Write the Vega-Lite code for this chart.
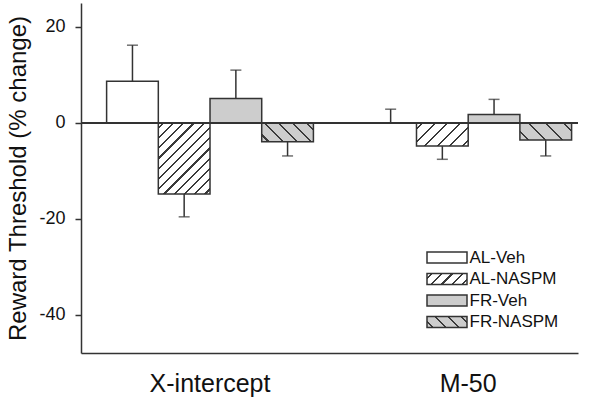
{
  "$schema": "https://vega.github.io/schema/vega-lite/v6.json",
  "width": 497,
  "height": 350,
  "autosize": {"type": "none"},
  "padding": {"left": 81, "top": 3, "right": 22, "bottom": 49},
  "config": {
    "font": "Liberation Sans",
    "view": {"stroke": null},
    "axis": {"grid": false, "domainColor": "#333", "domainWidth": 1.5, "tickColor": "#333", "tickWidth": 1.5, "labelColor": "#111", "titleColor": "#111", "titleFontWeight": "normal"}
  },
  "data": {
    "values": [
      {"measure": "X-intercept", "group": "AL-Veh", "value": 8.7, "err": 16.2},
      {"measure": "X-intercept", "group": "AL-NASPM", "value": -14.85, "err": -19.6},
      {"measure": "X-intercept", "group": "FR-Veh", "value": 5.1, "err": 11.0},
      {"measure": "X-intercept", "group": "FR-NASPM", "value": -3.95, "err": -6.9},
      {"measure": "M-50", "group": "AL-Veh", "value": 0, "err": 2.85},
      {"measure": "M-50", "group": "AL-NASPM", "value": -4.85, "err": -7.6},
      {"measure": "M-50", "group": "FR-Veh", "value": 1.75, "err": 4.9},
      {"measure": "M-50", "group": "FR-NASPM", "value": -3.6, "err": -6.9}
    ]
  },
  "layer": [
    {
      "mark": {"type": "bar", "stroke": "#333", "strokeWidth": 1.5},
      "encoding": {
        "x": {"field": "measure", "type": "nominal", "sort": ["X-intercept", "M-50"],
              "scale": {"paddingInner": 0.199, "paddingOuter": 0.062, "align": 0.8},
              "axis": {"title": null, "labelAngle": 0, "ticks": false, "labelFontSize": 25, "labelPadding": 18}},
        "xOffset": {"field": "group", "type": "nominal", "sort": ["AL-Veh", "AL-NASPM", "FR-Veh", "FR-NASPM"],
                    "scale": {"paddingInner": 0, "paddingOuter": 0}},
        "y": {"field": "value", "type": "quantitative",
              "scale": {"domain": [-48, 25], "nice": false, "zero": false},
              "axis": {"values": [-40, -20, 0, 20], "tickSize": 6, "labelFontSize": 18, "labelPadding": 10,
                       "labelExpr": "datum.value < 0 ? '-' + abs(datum.value) : '' + datum.value",
                       "title": "Reward Threshold (% change)", "titleFontSize": 24, "titlePadding": 8}},
        "y2": {"datum": 0},
        "fill": {
          "field": "group", "type": "nominal",
          "scale": {"domain": ["AL-Veh", "AL-NASPM", "FR-Veh", "FR-NASPM"], "range": [
            "#ffffff",
            {"expr": "{gradient:'linear',x1:0,y1:0,x2:1.185,y2:0.326,stops:[{offset:0,color:'#ffffff'},{offset:0.08,color:'#ffffff'},{offset:0.08,color:'#3a3a3a'},{offset:0.12,color:'#3a3a3a'},{offset:0.12,color:'#ffffff'},{offset:0.28,color:'#ffffff'},{offset:0.28,color:'#3a3a3a'},{offset:0.32,color:'#3a3a3a'},{offset:0.32,color:'#ffffff'},{offset:0.48,color:'#ffffff'},{offset:0.48,color:'#3a3a3a'},{offset:0.52,color:'#3a3a3a'},{offset:0.52,color:'#ffffff'},{offset:0.68,color:'#ffffff'},{offset:0.68,color:'#3a3a3a'},{offset:0.72,color:'#3a3a3a'},{offset:0.72,color:'#ffffff'},{offset:0.88,color:'#ffffff'},{offset:0.88,color:'#3a3a3a'},{offset:0.92,color:'#3a3a3a'},{offset:0.92,color:'#ffffff'},{offset:1,color:'#ffffff'}]}"},
            "#cdcdcd",
            {"expr": "{gradient:'linear',x1:0,y1:1,x2:1.185,y2:0.674,stops:[{offset:0,color:'#cdcdcd'},{offset:0.105,color:'#cdcdcd'},{offset:0.105,color:'#3a3a3a'},{offset:0.145,color:'#3a3a3a'},{offset:0.145,color:'#cdcdcd'},{offset:0.355,color:'#cdcdcd'},{offset:0.355,color:'#3a3a3a'},{offset:0.395,color:'#3a3a3a'},{offset:0.395,color:'#cdcdcd'},{offset:0.605,color:'#cdcdcd'},{offset:0.605,color:'#3a3a3a'},{offset:0.645,color:'#3a3a3a'},{offset:0.645,color:'#cdcdcd'},{offset:0.855,color:'#cdcdcd'},{offset:0.855,color:'#3a3a3a'},{offset:0.895,color:'#3a3a3a'},{offset:0.895,color:'#cdcdcd'},{offset:1,color:'#cdcdcd'}]}"}
          ]},
          "legend": {
            "orient": "none", "legendX": 342.5, "legendY": 246, "title": null, "padding": 0,
            "symbolType": "M-1,-1.1H7V1.1H-1Z", "symbolSize": 100, "symbolStrokeColor": "#333", "symbolStrokeWidth": 1.5,
            "labelFontSize": 17, "labelColor": "#111", "labelOffset": 29, "rowPadding": 3.5,
            "encode": {"symbols": {"update": {"stroke": {"value": "#333"}, "strokeWidth": {"value": 1.5}, "opacity": {"value": 1}}}}
          },
          "condition": [
            {"test": "datum.group === 'AL-NASPM' && datum.measure === 'X-intercept'", "value": {"gradient": "linear", "x1": 0, "y1": 0, "x2": 0.82, "y2": 1.13, "stops": [
              {"offset": 0, "color": "#ffffff"},
              {"offset": 0.0327, "color": "#ffffff"}, {"offset": 0.0327, "color": "#3a3a3a"}, {"offset": 0.0507, "color": "#3a3a3a"}, {"offset": 0.0507, "color": "#ffffff"},
              {"offset": 0.116, "color": "#ffffff"}, {"offset": 0.116, "color": "#3a3a3a"}, {"offset": 0.134, "color": "#3a3a3a"}, {"offset": 0.134, "color": "#ffffff"},
              {"offset": 0.1993, "color": "#ffffff"}, {"offset": 0.1993, "color": "#3a3a3a"}, {"offset": 0.2173, "color": "#3a3a3a"}, {"offset": 0.2173, "color": "#ffffff"},
              {"offset": 0.2827, "color": "#ffffff"}, {"offset": 0.2827, "color": "#3a3a3a"}, {"offset": 0.3007, "color": "#3a3a3a"}, {"offset": 0.3007, "color": "#ffffff"},
              {"offset": 0.366, "color": "#ffffff"}, {"offset": 0.366, "color": "#3a3a3a"}, {"offset": 0.384, "color": "#3a3a3a"}, {"offset": 0.384, "color": "#ffffff"},
              {"offset": 0.4493, "color": "#ffffff"}, {"offset": 0.4493, "color": "#3a3a3a"}, {"offset": 0.4673, "color": "#3a3a3a"}, {"offset": 0.4673, "color": "#ffffff"},
              {"offset": 0.5327, "color": "#ffffff"}, {"offset": 0.5327, "color": "#3a3a3a"}, {"offset": 0.5507, "color": "#3a3a3a"}, {"offset": 0.5507, "color": "#ffffff"},
              {"offset": 0.616, "color": "#ffffff"}, {"offset": 0.616, "color": "#3a3a3a"}, {"offset": 0.634, "color": "#3a3a3a"}, {"offset": 0.634, "color": "#ffffff"},
              {"offset": 0.6993, "color": "#ffffff"}, {"offset": 0.6993, "color": "#3a3a3a"}, {"offset": 0.7173, "color": "#3a3a3a"}, {"offset": 0.7173, "color": "#ffffff"},
              {"offset": 0.7827, "color": "#ffffff"}, {"offset": 0.7827, "color": "#3a3a3a"}, {"offset": 0.8007, "color": "#3a3a3a"}, {"offset": 0.8007, "color": "#ffffff"},
              {"offset": 0.866, "color": "#ffffff"}, {"offset": 0.866, "color": "#3a3a3a"}, {"offset": 0.884, "color": "#3a3a3a"}, {"offset": 0.884, "color": "#ffffff"},
              {"offset": 0.9493, "color": "#ffffff"}, {"offset": 0.9493, "color": "#3a3a3a"}, {"offset": 0.9673, "color": "#3a3a3a"}, {"offset": 0.9673, "color": "#ffffff"},
              {"offset": 1, "color": "#ffffff"}]}},
            {"test": "datum.group === 'AL-NASPM' && datum.measure === 'M-50'", "value": {"gradient": "linear", "x1": 0, "y1": 0, "x2": 1.206, "y2": 0.543, "stops": [
              {"offset": 0, "color": "#ffffff"},
              {"offset": 0.0693, "color": "#ffffff"}, {"offset": 0.0693, "color": "#3a3a3a"}, {"offset": 0.0973, "color": "#3a3a3a"}, {"offset": 0.0973, "color": "#ffffff"},
              {"offset": 0.236, "color": "#ffffff"}, {"offset": 0.236, "color": "#3a3a3a"}, {"offset": 0.264, "color": "#3a3a3a"}, {"offset": 0.264, "color": "#ffffff"},
              {"offset": 0.4027, "color": "#ffffff"}, {"offset": 0.4027, "color": "#3a3a3a"}, {"offset": 0.4307, "color": "#3a3a3a"}, {"offset": 0.4307, "color": "#ffffff"},
              {"offset": 0.5693, "color": "#ffffff"}, {"offset": 0.5693, "color": "#3a3a3a"}, {"offset": 0.5973, "color": "#3a3a3a"}, {"offset": 0.5973, "color": "#ffffff"},
              {"offset": 0.736, "color": "#ffffff"}, {"offset": 0.736, "color": "#3a3a3a"}, {"offset": 0.764, "color": "#3a3a3a"}, {"offset": 0.764, "color": "#ffffff"},
              {"offset": 0.9027, "color": "#ffffff"}, {"offset": 0.9027, "color": "#3a3a3a"}, {"offset": 0.9307, "color": "#3a3a3a"}, {"offset": 0.9307, "color": "#ffffff"},
              {"offset": 1, "color": "#ffffff"}]}},
            {"test": "datum.group === 'FR-NASPM' && datum.measure === 'X-intercept'", "value": {"gradient": "linear", "x1": 0, "y1": 1, "x2": 1.205, "y2": 0.56, "stops": [
              {"offset": 0, "color": "#cdcdcd"},
              {"offset": 0.085, "color": "#cdcdcd"}, {"offset": 0.085, "color": "#3a3a3a"}, {"offset": 0.115, "color": "#3a3a3a"}, {"offset": 0.115, "color": "#cdcdcd"},
              {"offset": 0.285, "color": "#cdcdcd"}, {"offset": 0.285, "color": "#3a3a3a"}, {"offset": 0.315, "color": "#3a3a3a"}, {"offset": 0.315, "color": "#cdcdcd"},
              {"offset": 0.485, "color": "#cdcdcd"}, {"offset": 0.485, "color": "#3a3a3a"}, {"offset": 0.515, "color": "#3a3a3a"}, {"offset": 0.515, "color": "#cdcdcd"},
              {"offset": 0.685, "color": "#cdcdcd"}, {"offset": 0.685, "color": "#3a3a3a"}, {"offset": 0.715, "color": "#3a3a3a"}, {"offset": 0.715, "color": "#cdcdcd"},
              {"offset": 0.885, "color": "#cdcdcd"}, {"offset": 0.885, "color": "#3a3a3a"}, {"offset": 0.915, "color": "#3a3a3a"}, {"offset": 0.915, "color": "#cdcdcd"},
              {"offset": 1, "color": "#cdcdcd"}]}},
            {"test": "datum.group === 'FR-NASPM' && datum.measure === 'M-50'", "value": {"gradient": "linear", "x1": 0, "y1": 1, "x2": 1.2, "y2": 0.598, "stops": [
              {"offset": 0, "color": "#cdcdcd"},
              {"offset": 0.11, "color": "#cdcdcd"}, {"offset": 0.11, "color": "#3a3a3a"}, {"offset": 0.14, "color": "#3a3a3a"}, {"offset": 0.14, "color": "#cdcdcd"},
              {"offset": 0.36, "color": "#cdcdcd"}, {"offset": 0.36, "color": "#3a3a3a"}, {"offset": 0.39, "color": "#3a3a3a"}, {"offset": 0.39, "color": "#cdcdcd"},
              {"offset": 0.61, "color": "#cdcdcd"}, {"offset": 0.61, "color": "#3a3a3a"}, {"offset": 0.64, "color": "#3a3a3a"}, {"offset": 0.64, "color": "#cdcdcd"},
              {"offset": 0.86, "color": "#cdcdcd"}, {"offset": 0.86, "color": "#3a3a3a"}, {"offset": 0.89, "color": "#3a3a3a"}, {"offset": 0.89, "color": "#cdcdcd"},
              {"offset": 1, "color": "#cdcdcd"}]}}
          ]
        }
      }
    },
    {
      "mark": {"type": "rule", "color": "#333", "strokeWidth": 1.5},
      "encoding": {"y": {"datum": 0}}
    },
    {
      "mark": {"type": "rule", "color": "#333", "strokeWidth": 1.5},
      "encoding": {
        "x": {"field": "measure", "type": "nominal", "sort": ["X-intercept", "M-50"]},
        "xOffset": {"field": "group", "type": "nominal", "sort": ["AL-Veh", "AL-NASPM", "FR-Veh", "FR-NASPM"]},
        "y": {"field": "value", "type": "quantitative"},
        "y2": {"field": "err"}
      }
    },
    {
      "mark": {"type": "tick", "orient": "horizontal", "size": 11, "thickness": 1.5, "color": "#333"},
      "encoding": {
        "x": {"field": "measure", "type": "nominal", "sort": ["X-intercept", "M-50"]},
        "xOffset": {"field": "group", "type": "nominal", "sort": ["AL-Veh", "AL-NASPM", "FR-Veh", "FR-NASPM"]},
        "y": {"field": "err", "type": "quantitative"}
      }
    }
  ]
}
